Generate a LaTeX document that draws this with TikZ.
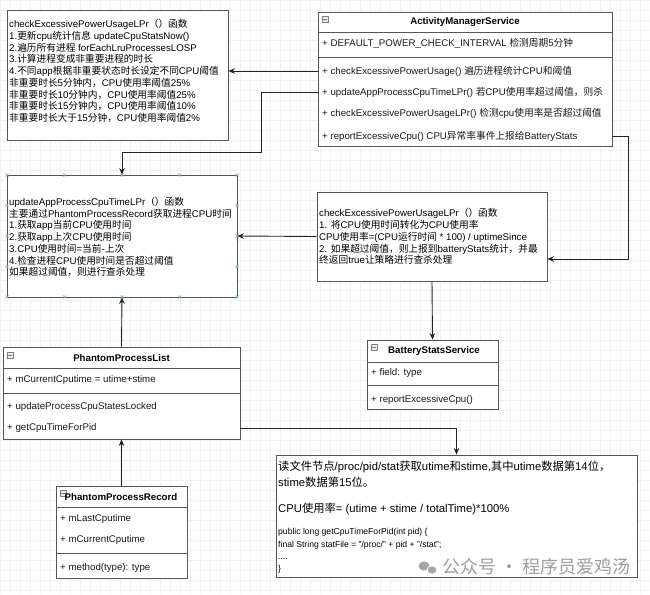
\documentclass[tikz,border=0pt]{standalone}
\usepackage{fontspec}
\setmainfont{Liberation Sans}
\newfontfamily\cjk{Noto Sans CJK SC}
\usetikzlibrary{arrows.meta}
\newcommand\zh[1]{{\cjk #1}}
\newcommand\fs{\fontsize{9.7}{11.75}\selectfont}
\newcommand\fb{\fontsize{11.3}{14}\selectfont}
\newcommand\fc{\fontsize{8.6}{10}\selectfont}
\definecolor{gridc}{HTML}{F0F0F0}
\definecolor{edgec}{HTML}{555555}
\definecolor{linec}{HTML}{222222}
\definecolor{handc}{HTML}{6FB3E0}
\tikzset{
  box/.style={draw=edgec, line width=0.9pt, fill=white, inner sep=0pt},
  txt/.style={anchor=west, align=left, inner sep=0pt, font=\fs, text=black},
  row/.style={anchor=west, inner sep=0pt, font=\fs, text=black!90},
  hdr/.style={inner sep=0pt, font=\fs\bfseries, text=black},
  sep/.style={draw=edgec, line width=0.9pt},
  arr/.style={draw=linec, line width=0.9pt, -{Stealth[length=6.5pt,width=5.5pt]}},
  icon/.style={draw=gray, fill=black!8, line width=0.5pt, minimum size=6pt, inner sep=0pt},
  hand/.style={draw=handc, line width=0.7pt},
}
\begin{document}
\begin{tikzpicture}[x=1pt,y=-1pt]
\useasboundingbox (0,0) rectangle (650,594);
\fill[white] (0,0) rectangle (650,594);
\foreach \i in {0,10,...,650} \draw[gridc, line width=0.5pt] (\i,0) -- (\i,594);
\foreach \j in {0,10,...,590} \draw[gridc, line width=0.5pt] (0,\j) -- (650,\j);

% Box 1
\node[box, minimum width=221pt, minimum height=130pt] (b1) at (117.5,75) {};
\node[txt] (b1t) at (9,71) {checkExcessivePowerUsageLPr\zh{（）函数}\\
1.\zh{更新}cpu\zh{统计信息} updateCpuStatsNow()\\
2.\zh{遍历所有进程} forEachLruProcessesLOSP\\
3.\zh{计算进程变成非重要进程的时长}\\
4.\zh{不同}app\zh{根据非重要状态时长设定不同}CPU\zh{阈值}\\
\zh{非重要时长}5\zh{分钟内，}CPU\zh{使用率阈值}25\%\\
\zh{非重要时长}10\zh{分钟内，}CPU\zh{使用率阈值}25\%\\
\zh{非重要时长}15\zh{分钟内，}CPU\zh{使用率阈值}10\%\\
\zh{非重要时长大于}15\zh{分钟，}CPU\zh{使用率阈值}2\%};

% ActivityManagerService
\node[box, minimum width=294pt, minimum height=134pt] (ams) at (465,79) {};
\node[icon] (amsi) at (325,19) {};
\draw[gray, line width=0.6pt] (323.2,19) -- (326.8,19);
\node[hdr] (amsh) at (465,22) {ActivityManagerService};
\draw[sep] (318,32) -- (612,32);
\node[row] (amsa) at (322,43) {+ DEFAULT\_POWER\_CHECK\_INTERVAL \zh{检测周期}5\zh{分钟}};
\draw[sep] (318,57) -- (612,57);
\node[row] (amsr1) at (322,71) {+ checkExcessivePowerUsage() \zh{遍历进程统计}CPU\zh{和阈值}};
\node[row] (amsr2) at (322,92) {+ updateAppProcessCpuTimeLPr() \zh{若}CPU\zh{使用率超过阈值，则杀}};
\node[row] (amsr3) at (322,113) {+ checkExcessivePowerUsageLPr() \zh{检测}cpu\zh{使用率是否超过阈值}};
\node[row] (amsr4) at (322,136) {+ reportExcessiveCpu() CPU\zh{异常率事件上报给}BatteryStats};
\coordinate (a1) at (318,71);
\coordinate (a2) at (318,92);
\coordinate (a4) at (612,136);

% Box 2
\node[box, minimum width=230pt, minimum height=122pt] (b2) at (122,236) {};
\node[txt] (b2t) at (9,237) {updateAppProcessCpuTimeLPr\zh{（）函数}\\
\zh{主要通过}PhantomProcessRecord\zh{获取进程}CPU\zh{时间}\\
1.\zh{获取}app\zh{当前}CPU\zh{使用时间}\\
2.\zh{获取}app\zh{上次}CPU\zh{使用时间}\\
3.CPU\zh{使用时间}=\zh{当前}-\zh{上次}\\
4.\zh{检查进程}CPU\zh{使用时间是否超过阈值}\\
\zh{如果超过阈值，则进行查杀处理}};
\foreach \hx in {7,64.5,122,179.5,237} {
  \draw[hand] (\hx-1.6,175-1.6) -- (\hx+1.6,175+1.6) (\hx-1.6,175+1.6) -- (\hx+1.6,175-1.6);
  \draw[hand] (\hx-1.6,297-1.6) -- (\hx+1.6,297+1.6) (\hx-1.6,297+1.6) -- (\hx+1.6,297-1.6);
}
\foreach \hy in {205.5,236,266.5} {
  \draw[hand] (7-1.6,\hy-1.6) -- (7+1.6,\hy+1.6) (7-1.6,\hy+1.6) -- (7+1.6,\hy-1.6);
  \draw[hand] (237-1.6,\hy-1.6) -- (237+1.6,\hy+1.6) (237-1.6,\hy+1.6) -- (237+1.6,\hy-1.6);
}

% Box 3
\node[box, minimum width=230pt, minimum height=89pt] (b3) at (432,236.5) {};
\node[txt] (b3t) at (319,236.5) {checkExcessivePowerUsageLPr\zh{（）函数}\\
1. \zh{将}CPU\zh{使用时间转化为}CPU\zh{使用率}\\
CPU\zh{使用率}=(CPU\zh{运行时间} * 100) / uptimeSince\\
2. \zh{如果超过阈值，则上报到}batteryStats\zh{统计，并最}\\
\zh{终返回}true\zh{让策略进行查杀处理}};

% BatteryStatsService
\node[box, minimum width=131pt, minimum height=69pt] (bs) at (432.5,374.5) {};
\node[icon] (bsi) at (374,347) {};
\draw[gray, line width=0.6pt] (372.2,347) -- (375.8,347);
\node[hdr] (bsh) at (434,351) {BatteryStatsService};
\draw[sep] (367,362) -- (498,362);
\node[row] (bsa) at (371,372.5) {+ field: type};
\draw[sep] (367,385) -- (498,385);
\node[row] (bsr) at (371,399.5) {+ reportExcessiveCpu()};

% PhantomProcessList
\node[box, minimum width=237pt, minimum height=92pt] (ppl) at (121.5,393) {};
\node[icon] (ppli) at (10,355) {};
\draw[gray, line width=0.6pt] (8.2,355) -- (11.8,355);
\node[hdr] (pplh) at (121.5,358) {PhantomProcessList};
\draw[sep] (3,368) -- (240,368);
\node[row] (ppla) at (7,380) {+ mCurrentCputime = utime+stime};
\draw[sep] (3,393) -- (240,393);
\node[row] (pplr1) at (7,407) {+ updateProcessCpuStatesLocked};
\node[row] (pplr2) at (7,428) {+ getCpuTimeForPid};
\coordinate (p2) at (240,428);

% PhantomProcessRecord
\node[box, minimum width=131pt, minimum height=92pt] (ppr) at (121.5,532) {};
\node[icon] (ppri) at (63,493) {};
\draw[gray, line width=0.6pt] (61.2,493) -- (64.8,493);
\node[hdr] (pprh) at (121,497) {PhantomProcessRecord};
\draw[sep] (56,507) -- (187,507);
\node[row] (ppra1) at (60,519) {+ mLastCputime};
\node[row] (ppra2) at (60,540) {+ mCurrentCputime};
\draw[sep] (56,553) -- (187,553);
\node[row] (pprr) at (60,568) {+ method(type): type};

% Box 4
\node[box, minimum width=361pt, minimum height=122pt] (b4) at (456.5,516) {};
\node[anchor=base west, inner sep=0pt, font=\fb] (b4l1) at (278,470) {\zh{读文件节点}/proc/pid/stat\zh{获取}utime\zh{和}stime,\zh{其中}utime\zh{数据第}14\zh{位，}};
\node[anchor=base west, inner sep=0pt, font=\fb] (b4l2) at (278,486) {stime\zh{数据第}15\zh{位。}};
\node[anchor=base west, inner sep=0pt, font=\fb] (b4l3) at (278,512) {CPU\zh{使用率}= (utime + stime / totalTime)*100\%};
\node[anchor=base west, inner sep=0pt, font=\fc] (b4c1) at (278,534) {public long getCpuTimeForPid(int pid) \{};
\node[anchor=base west, inner sep=0pt, font=\fc] (b4c2) at (278,547) {final String statFile = "/proc/" + pid + "/stat";};
\node[anchor=base west, inner sep=0pt, font=\fc] (b4c3) at (278,559.5) {....};
\node[anchor=base west, inner sep=0pt, font=\fc] (b4c4) at (278,571) {\}};

% watermark
\fill[black!35] (424,566) ellipse (5.5pt and 4.6pt);
\fill[black!35, draw=white, line width=0.8pt] (432,570) ellipse (5pt and 4.2pt);
\node[anchor=west, inner sep=0pt, font=\fontsize{18}{20}\selectfont, text=black!38] (wm) at (442,566.5) {\zh{公众号 · 程序员爱鸡汤}};

% connectors
\coordinate (k2) at (261,152);
\coordinate (k4) at (628,259);
\draw[arr] (a1) -- (a1 -| b1.east);
\draw[arr] (a2) -| (k2) -| (b2.north);
\draw[arr] (b3.west) -- (b2.east);
\draw[arr] (a4) -| (k4) -- (k4 -| b3.east);
\draw[arr] (b3.south) -- (bs.north);
\draw[arr] (ppl.north) -- (b2.south);
\draw[arr] (ppr.north) -- (ppl.south);
\draw[arr] (p2) -| (b4.north);
\end{tikzpicture}
\end{document}
